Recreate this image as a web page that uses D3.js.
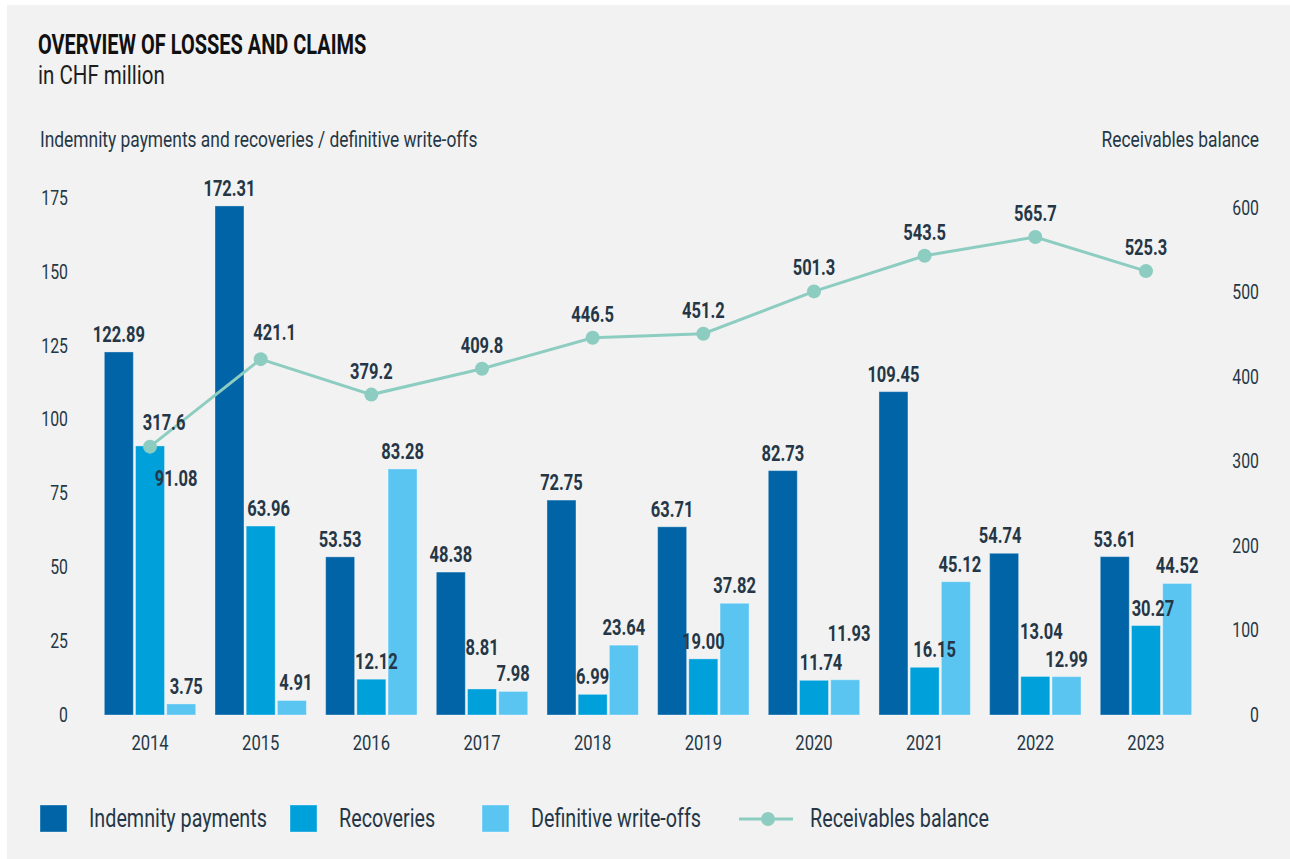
<!DOCTYPE html>
<html>
<head>
<meta charset="utf-8">
<script src="https://cdn.jsdelivr.net/npm/d3@7"></script>
<style>
  html, body { margin: 0; padding: 0; background: #ffffff; }
  svg { display: block; }
  text { font-family: "Roboto", "DejaVu Sans", sans-serif; }
</style>
</head>
<body>
<svg id="chart" width="1290" height="859"></svg>
<script>
// Losses and claims, CHF million
const years       = ["2014", "2015", "2016", "2017", "2018", "2019", "2020", "2021", "2022", "2023"];
const indemnity   = [122.89, 172.31, 53.53, 48.38, 72.75, 63.71, 82.73, 109.45, 54.74, 53.61];
const recoveries  = [91.08, 63.96, 12.12, 8.81, 6.99, 19.00, 11.74, 16.15, 13.04, 30.27];
const writeOffs   = [3.75, 4.91, 83.28, 7.98, 23.64, 37.82, 11.93, 45.12, 12.99, 44.52];
const receivables = [317.6, 421.1, 379.2, 409.8, 446.5, 451.2, 501.3, 543.5, 565.7, 525.3];
const leftTicks   = [0, 25, 50, 75, 100, 125, 150, 175];
const rightTicks  = [0, 100, 200, 300, 400, 500, 600];

const colors = {
  indemnity: "#0064a7",
  recoveries: "#00a0db",
  writeOffs: "#5bc5f2",
  line: "#8dcdc1",
  text: "#253746"
};

// horizontal squeeze giving the type a condensed look
const CONDENSE_REGULAR = 0.79;
const CONDENSE_BOLD = 0.75;

// Offsets for labels that would otherwise collide
const labelNudge = {
  "recoveries-2014": [26, 50],
  "writeOffs-2014": [5, 0],
  "recoveries-2015": [8, 0],
  "writeOffs-2015": [4, 0],
  "recoveries-2016": [5, 0],
  "recoveries-2017": [0, -24],
  "recoveries-2020": [7, 0],
  "writeOffs-2020": [4, -29],
  "recoveries-2021": [10, 0],
  "writeOffs-2021": [4, 0],
  "indemnity-2022": [-4, 0],
  "recoveries-2022": [6, -27],
  "recoveries-2023": [7, 0],
  "receivables-2014": [14, -1],
  "receivables-2015": [14, -3]
};

const svg = d3.select("#chart");

// panel background
svg.append("rect")
  .attr("x", 7).attr("y", 5)
  .attr("width", 1283).attr("height", 854)
  .attr("fill", "#f2f2f2");

// titles
svg.append("text")
  .attr("x", 38).attr("y", 54)
  .attr("font-size", 27).attr("font-weight", "bold")
  .attr("fill", "#111111")
  .attr("class", "tight")
  .text("OVERVIEW OF LOSSES AND CLAIMS");
svg.append("text")
  .attr("x", 38).attr("y", 84)
  .attr("font-size", 26)
  .attr("fill", "#1e1e1e")
  .text("in CHF million");

svg.append("text")
  .attr("x", 40).attr("y", 147)
  .attr("font-size", 22)
  .attr("fill", colors.text)
  .text("Indemnity payments and recoveries / definitive write-offs");
svg.append("text")
  .attr("x", 1259).attr("y", 147)
  .attr("font-size", 22)
  .attr("text-anchor", "end")
  .attr("fill", colors.text)
  .text("Receivables balance");

// scales
const x = d3.scaleBand().domain(years).range([94.7, 1201.3]).padding(0);
const yL = d3.scaleLinear().domain([0, 175]).range([715, 198]);
const yR = d3.scaleLinear().domain([0, 600]).range([715, 208]);
const barW = 29;
const barStep = 31.2;
const cx = d => x(d) + x.bandwidth() / 2;

// axes (labels only)
const leftAxis = d3.axisLeft(yL).tickValues(leftTicks).tickSize(0).tickPadding(0);
const gl = svg.append("g").attr("transform", "translate(68,0)").call(leftAxis);
const rightAxis = d3.axisRight(yR).tickValues(rightTicks).tickSize(0).tickPadding(0);
const gr = svg.append("g").attr("transform", "translate(1259,0)").call(rightAxis);
gr.selectAll("text").attr("text-anchor", "end");
const bottomAxis = d3.axisBottom(x).tickSize(0).tickPadding(0);
const gb = svg.append("g").attr("transform", "translate(0,735)").call(bottomAxis);
[gl, gr, gb].forEach(g => {
  g.select(".domain").remove();
  g.selectAll("text")
    .attr("font-size", 21)
    .attr("fill", colors.text)
    .style("font-family", '"Roboto", "DejaVu Sans", sans-serif');
});
gl.selectAll("text").attr("font-size", 20);
gr.selectAll("text").attr("font-size", 20);
gb.selectAll("text").attr("dy", "0.71em");

// bars
const series = [
  { key: "indemnity", values: indemnity, color: colors.indemnity, offset: -1 },
  { key: "recoveries", values: recoveries, color: colors.recoveries, offset: 0 },
  { key: "writeOffs", values: writeOffs, color: colors.writeOffs, offset: 1 }
];

series.forEach(s => {
  const rows = years.map((yr, i) => ({ yr, v: s.values[i] }));
  svg.append("g").selectAll("rect").data(rows).join("rect")
    .attr("x", d => cx(d.yr) + s.offset * barStep - barW / 2)
    .attr("y", d => yL(d.v))
    .attr("width", barW)
    .attr("height", d => yL(0) - yL(d.v))
    .attr("fill", s.color)
    .attr("stroke", "#ffffff")
    .attr("stroke-opacity", 0.35)
    .attr("stroke-width", 1);
});

// receivables line
const pts = years.map((yr, i) => ({ yr, v: receivables[i] }));
svg.append("path")
  .datum(pts)
  .attr("fill", "none")
  .attr("stroke", colors.line)
  .attr("stroke-width", 3)
  .attr("d", d3.line().x(d => cx(d.yr)).y(d => yR(d.v)));
svg.append("g").selectAll("circle").data(pts).join("circle")
  .attr("cx", d => cx(d.yr))
  .attr("cy", d => yR(d.v))
  .attr("r", 7)
  .attr("fill", colors.line);

// value labels
const fmt2 = d3.format(".2f");
const labelLayer = svg.append("g")
  .attr("font-size", 22)
  .attr("font-weight", "bold")
  .attr("fill", colors.text)
  .attr("text-anchor", "middle");

series.forEach(s => {
  years.forEach((yr, i) => {
    const v = s.values[i];
    const n = labelNudge[s.key + "-" + yr] || [0, 0];
    labelLayer.append("text")
      .attr("x", cx(yr) + s.offset * barStep + n[0])
      .attr("y", yL(v) - 10 + n[1])
      .text(fmt2(v));
  });
});
pts.forEach(d => {
  const n = labelNudge["receivables-" + d.yr] || [0, 0];
  labelLayer.append("text")
    .attr("x", cx(d.yr) + n[0])
    .attr("y", yR(d.v) - 16 + n[1])
    .text(d3.format(".1f")(d.v));
});

// legend
const legend = svg.append("g").attr("font-size", 25).attr("fill", colors.text);
const legendItems = [
  { label: "Indemnity payments", color: colors.indemnity, x: 40 },
  { label: "Recoveries", color: colors.recoveries, x: 290 },
  { label: "Definitive write-offs", color: colors.writeOffs, x: 482 }
];
legendItems.forEach(it => {
  legend.append("rect")
    .attr("x", it.x).attr("y", 805)
    .attr("width", 27).attr("height", 27)
    .attr("fill", it.color)
    .attr("stroke", "#ffffff").attr("stroke-opacity", 0.35);
  legend.append("text")
    .attr("x", it.x + 49).attr("y", 827)
    .text(it.label);
});
legend.append("line")
  .attr("x1", 739).attr("x2", 793)
  .attr("y1", 819).attr("y2", 819)
  .attr("stroke", colors.line).attr("stroke-width", 3);
legend.append("circle")
  .attr("cx", 768).attr("cy", 819).attr("r", 7)
  .attr("fill", colors.line);
legend.append("text")
  .attr("x", 810).attr("y", 827)
  .text("Receivables balance");

// condense every text horizontally around its own anchor point
svg.selectAll("text").each(function () {
  const t = d3.select(this);
  const bold = window.getComputedStyle(this).fontWeight >= 600;
  const k = t.classed("tight") ? 0.74 : (bold ? CONDENSE_BOLD : CONDENSE_REGULAR);
  const tx = +t.attr("x") || 0;
  const ty = +t.attr("y") || 0;
  t.attr("x", 0).attr("y", 0)
    .attr("transform", `translate(${tx},${ty}) scale(${k},1)`);
});
</script>
</body>
</html>
